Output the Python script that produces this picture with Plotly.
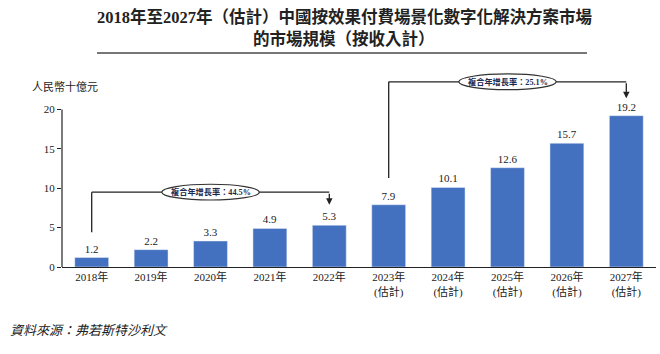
import plotly.graph_objects as go

years = ["2018年", "2019年", "2020年", "2021年", "2022年",
         "2023年<br>(估計)", "2024年<br>(估計)", "2025年<br>(估計)", "2026年<br>(估計)", "2027年<br>(估計)"]
values = [1.2, 2.2, 3.3, 4.9, 5.3, 7.9, 10.1, 12.6, 15.7, 19.2]
value_labels = ["1.2", "2.2", "3.3", "4.9", "5.3", "7.9", "10.1", "12.6", "15.7", "19.2"]
cagr_labels = ["複合年增長率：44.5%", "複合年增長率：25.1%"]
y_ticks = [0, 5, 10, 15, 20]
title_lines = ["2018年至2027年（估計）中國按效果付費場景化數字化解決方案市場", "的市場規模（按收入計）"]

FONT = "Liberation Serif, 'Noto Sans CJK TC', serif"
BAR = "#4470C0"
xs = list(range(len(years)))

fig = go.Figure()
fig.add_trace(go.Bar(
    x=xs, y=values, width=0.57, marker_color=BAR,
    text=value_labels, textposition="outside", cliponaxis=False,
    textfont=dict(family=FONT, size=11, color="#222"),
    hoverinfo="skip",
))

shapes = []
annotations = []
# y axis line (only 0 to 20)
shapes.append(dict(type="line", xref="paper", yref="y", x0=0, x1=0, y0=0, y1=20,
                   line=dict(color="#222", width=1.2)))

def bracket(i0, i1, y_start0, y_top, y_end, label):
    shapes.append(dict(type="line", xref="x", yref="y", x0=i0, x1=i0, y0=y_start0, y1=y_top,
                       line=dict(color="#222", width=1.3)))
    shapes.append(dict(type="line", xref="x", yref="y", x0=i0, x1=i1, y0=y_top, y1=y_top,
                       line=dict(color="#222", width=1.3)))
    annotations.append(dict(x=i1, y=y_end, ax=i1, ay=y_top, xref="x", yref="y",
                            axref="x", ayref="y", text="", showarrow=True,
                            arrowhead=2, arrowsize=1, arrowwidth=1.3, arrowcolor="#222"))
    cx = (i0 + i1) / 2
    shapes.append(dict(type="circle", xref="x", yref="y", x0=cx - 0.82, x1=cx + 0.82,
                       y0=y_top - 1.0, y1=y_top + 1.0, fillcolor="white",
                       line=dict(color="#333", width=1.2)))
    annotations.append(dict(x=cx, y=y_top, xref="x", yref="y", text="<b>" + label + "</b>",
                            showarrow=False, font=dict(family=FONT, size=8.2, color="#1c2a50")))

bracket(0, 4, 4.4, 9.5, 7.9, cagr_labels[0])
bracket(5, 9, 11.3, 23.5, 21.4, cagr_labels[1])

# title
TX = (344 - 62) / 594
annotations.append(dict(x=TX, y=1 + (70 - 17) / 197, xref="paper", yref="paper",
                        text="<b>" + title_lines[0] + "</b>", showarrow=False,
                        font=dict(family=FONT, size=16.5, color="#222"), yanchor="middle"))
annotations.append(dict(x=TX, y=1 + (70 - 39) / 197, xref="paper", yref="paper",
                        text="<b>" + title_lines[1] + "</b>", showarrow=False,
                        font=dict(family=FONT, size=16.5, color="#222"), yanchor="middle"))
shapes.append(dict(type="line", xref="paper", yref="paper",
                   x0=(97 - 62) / 594, x1=(587 - 62) / 594,
                   y0=1 + (70 - 53) / 197, y1=1 + (70 - 53) / 197,
                   line=dict(color="#777", width=2)))
# unit label
annotations.append(dict(x=(30 - 62) / 594, y=1 + (70 - 86) / 197, xref="paper", yref="paper",
                        text="人民幣十億元", showarrow=False, xanchor="left", yanchor="middle",
                        font=dict(family=FONT, size=11, color="#222")))
# source
annotations.append(dict(x=(8 - 62) / 594, y=-(330 - 267) / 197, xref="paper", yref="paper",
                        text="<i>資料來源：弗若斯特沙利文</i>", showarrow=False, xanchor="left",
                        yanchor="middle", font=dict(family=FONT, size=13, color="#222")))

fig.update_layout(
    width=660, height=354,
    margin=dict(l=62, r=4, t=70, b=87),
    paper_bgcolor="white", plot_bgcolor="white",
    showlegend=False, bargap=0.43,
    shapes=shapes, annotations=annotations,
    font=dict(family=FONT, size=11, color="#222"),
    xaxis=dict(range=[-0.5, 9.5], tickmode="array", tickvals=xs, ticktext=years,
               showline=True, linecolor="#222", linewidth=1.2, ticks="",
               showgrid=False, zeroline=False, fixedrange=True,
               tickfont=dict(family=FONT, size=11, color="#222")),
    yaxis=dict(range=[0, 25], tickmode="array", tickvals=y_ticks,
               ticks="outside", ticklen=4, tickcolor="#222", showline=False,
               showgrid=False, zeroline=False, fixedrange=True,
               tickfont=dict(family=FONT, size=11, color="#222")),
)

fig.write_html("out.html")
